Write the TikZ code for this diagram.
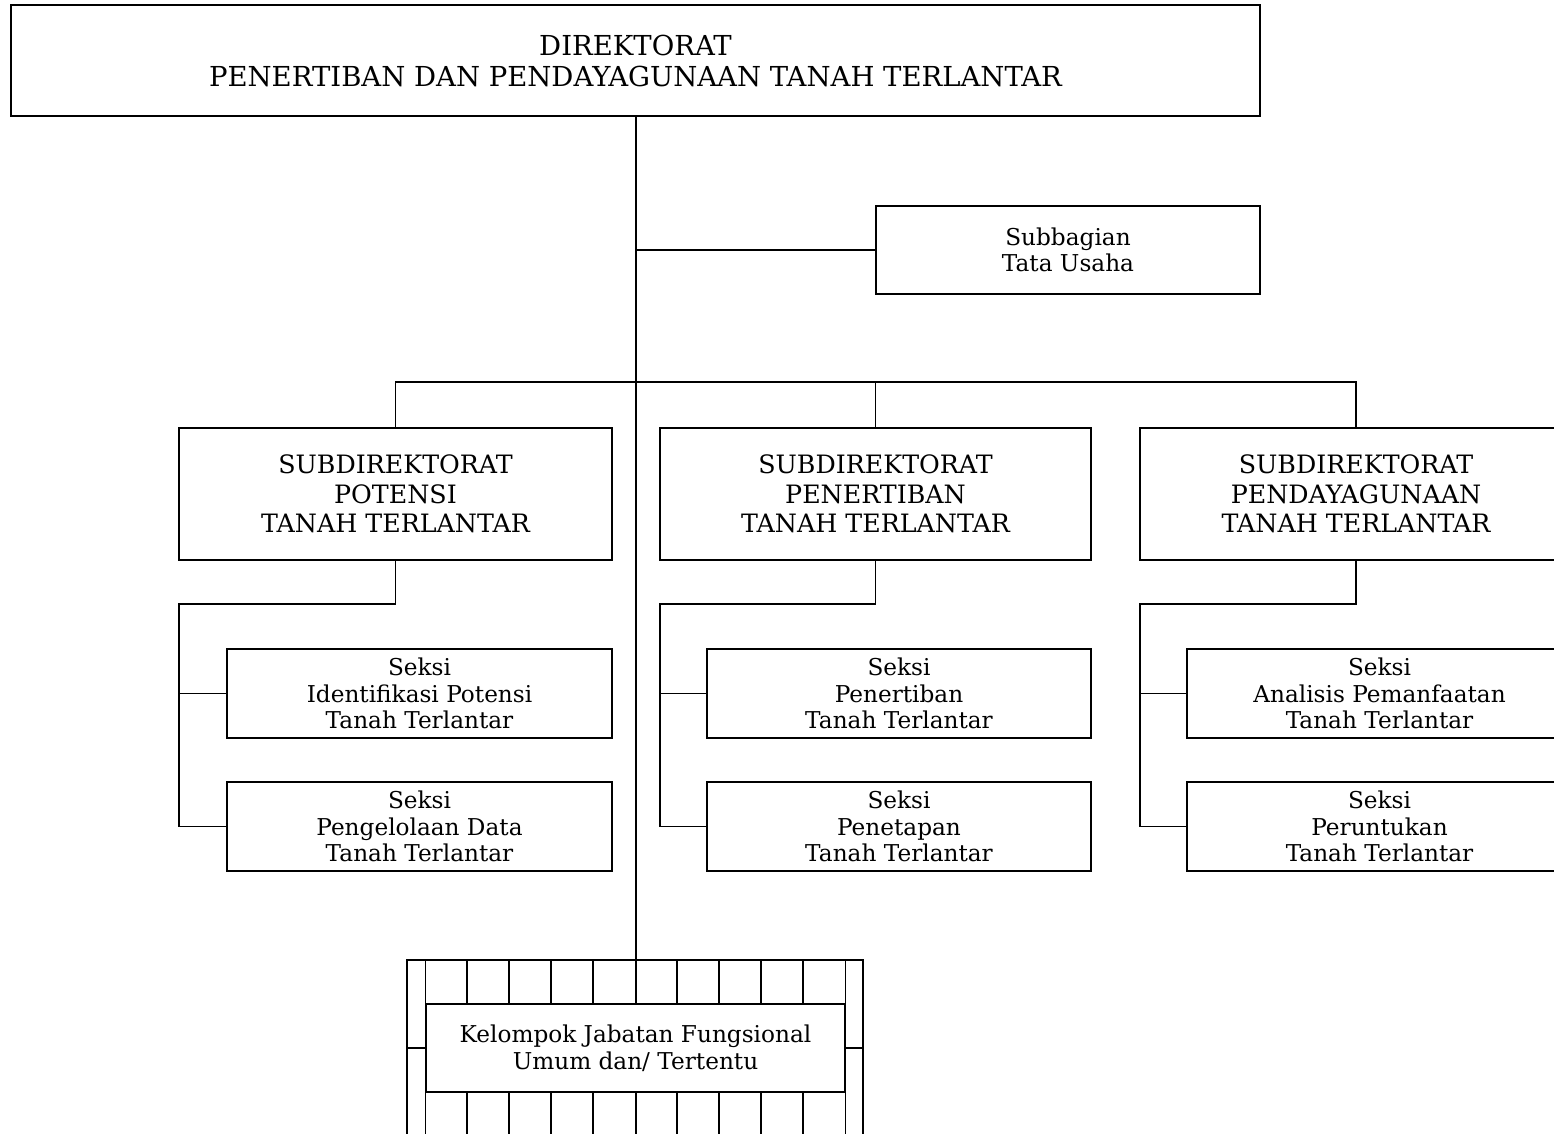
\documentclass[tikz,border=0pt]{standalone}
\usepackage{fontspec}
\setmainfont{DejaVu Serif}
\begin{document}
\begin{tikzpicture}[x=1pt, y=-1pt, line width=1.2pt,
  box/.style 2 args={draw, rectangle, inner sep=0pt, align=center,
    minimum width=#1pt, minimum height=#2pt},
  toptxt/.style={font=\fontsize{27.5}{31}\selectfont},
  bigtxt/.style={font=\fontsize{25.3}{29.5}\selectfont},
  smalltxt/.style={font=\fontsize{23.2}{26.5}\selectfont}]
\clip (0,0) rectangle (1554,1134);

% head office
\node[box={1249}{111}, toptxt] (dir) at (635.5,60.5)
  {DIREKTORAT\\PENERTIBAN DAN PENDAYAGUNAAN TANAH TERLANTAR};
\node[box={384}{88}, smalltxt] (tu) at (1068,250) {Subbagian\\Tata Usaha};

% sub-directorates
\node[box={433}{132}, bigtxt] (sd1) at (395.5,494) {SUBDIREKTORAT\\POTENSI\\TANAH TERLANTAR};
\node[box={431}{132}, bigtxt] (sd2) at (875.5,494) {SUBDIREKTORAT\\PENERTIBAN\\TANAH TERLANTAR};
\node[box={432}{132}, bigtxt] (sd3) at (1356,494) {SUBDIREKTORAT\\PENDAYAGUNAAN\\TANAH TERLANTAR};

% sections
\node[box={385}{89}, smalltxt] (k1a) at (419.5,693.5) {Seksi\\Identifikasi Potensi\\Tanah Terlantar};
\node[box={385}{89}, smalltxt] (k1b) at (419.5,826.5) {Seksi\\Pengelolaan Data\\Tanah Terlantar};
\node[box={384}{89}, smalltxt] (k2a) at (899,693.5) {Seksi\\Penertiban\\Tanah Terlantar};
\node[box={384}{89}, smalltxt] (k2b) at (899,826.5) {Seksi\\Penetapan\\Tanah Terlantar};
\node[box={385}{89}, smalltxt] (k3a) at (1379.5,693.5) {Seksi\\Analisis Pemanfaatan\\Tanah Terlantar};
\node[box={385}{89}, smalltxt] (k3b) at (1379.5,826.5) {Seksi\\Peruntukan\\Tanah Terlantar};

% functional group with its chequered frame
\node[box={456}{176}] (fgo) at (635,1048) {};
\node[box={419}{88}, smalltxt] (fg) at (635.5,1048) {Kelompok Jabatan Fungsional\\Umum dan/ Tertentu};
\foreach \gx in {467,509,551,593,636,677,719,761,803} {
  \draw (\gx,960) -- (\gx,1004);
  \draw (\gx,1092) -- (\gx,1136);
}
\draw (fg.north west) -- (fg.north west |- fgo.north);
\draw (fg.north east) -- (fg.north east |- fgo.north);
\draw (fg.south west) -- (fg.south west |- fgo.south);
\draw (fg.south east) -- (fg.south east |- fgo.south);
\draw (fg.west) -- (fgo.west);
\draw (fg.east) -- (fgo.east);

% connectors
\coordinate (trunk) at (636,116);
\coordinate (bus) at (636,382);
\draw (trunk) -- (636,960);
\draw (tu.west) -- (tu.west -| trunk);
\draw (sd1.north) |- (bus) -| (sd3.north);
\draw (sd2.north) -- (sd2.north |- bus);

\coordinate (r1) at (179,604);
\coordinate (r2) at (660,604);
\coordinate (r3) at (1140,604);
\draw (sd1.south) |- (r1) |- (k1b.west);
\draw (k1a.west) -- (k1a.west -| r1);
\draw (sd2.south) |- (r2) |- (k2b.west);
\draw (k2a.west) -- (k2a.west -| r2);
\draw (sd3.south) |- (r3) |- (k3b.west);
\draw (k3a.west) -- (k3a.west -| r3);
\end{tikzpicture}
\end{document}
